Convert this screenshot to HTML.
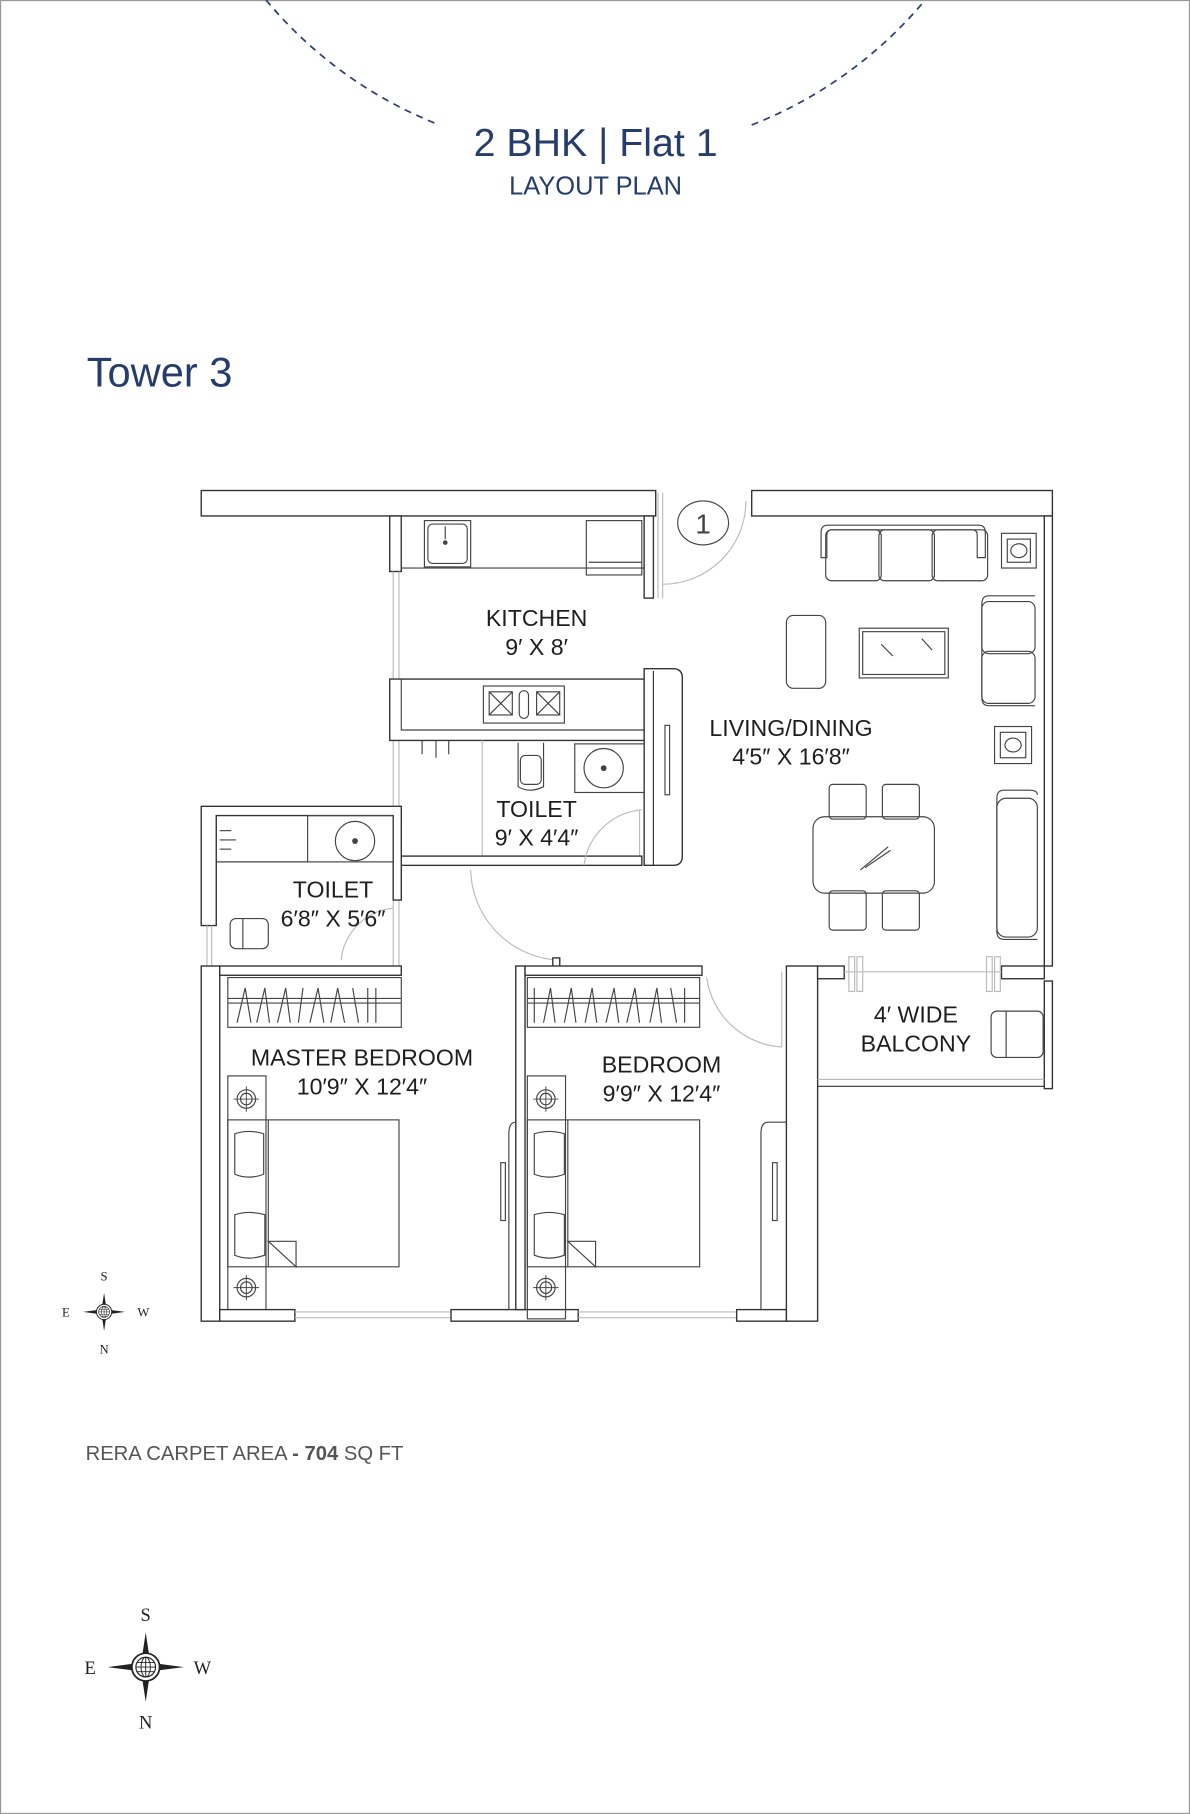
<!DOCTYPE html>
<html><head><meta charset="utf-8"><style>
html,body{margin:0;padding:0;background:#fff;width:1190px;height:1814px;overflow:hidden}
svg{display:block}
.w{fill:#fff;stroke:#333;stroke-width:1.2}
.f{fill:none;stroke:#444;stroke-width:1}
.l{fill:none;stroke:#bbb;stroke-width:1}
.t{font-family:"Liberation Sans",sans-serif;fill:#1e1e1e;font-size:20px;text-anchor:middle}
.nv{font-family:"Liberation Sans",sans-serif;fill:#253d6b}
.cp{font-family:"Liberation Serif",serif;fill:#222;text-anchor:middle}
</style></head><body>
<svg width="1190" height="1814" viewBox="0 0 1029 1568" preserveAspectRatio="none">
<defs>
<g id="comp">
 <polygon points="0,-30 3,-10 0,-12 -3,-10" fill="#222"/>
 <polygon points="0,30 3,10 0,12 -3,10" fill="#222"/>
 <polygon points="-33,0 -10,-3 -12,0 -10,3" fill="#222"/>
 <polygon points="33,0 10,-3 12,0 10,3" fill="#222"/>
 <circle r="12" fill="#fff" stroke="#222" stroke-width="1.5"/>
 <circle r="8.5" fill="none" stroke="#222" stroke-width="1"/>
 <ellipse rx="4" ry="8.5" fill="none" stroke="#222" stroke-width="0.8"/>
 <line x1="-8.5" y1="0" x2="8.5" y2="0" stroke="#222" stroke-width="0.8"/>
 <line x1="0" y1="-8.5" x2="0" y2="8.5" stroke="#222" stroke-width="0.8"/>
 <line x1="-7.5" y1="-4" x2="7.5" y2="-4" stroke="#222" stroke-width="0.7"/>
 <line x1="-7.5" y1="4" x2="7.5" y2="4" stroke="#222" stroke-width="0.7"/>
</g>
<g id="lamp">
 <circle r="8" fill="none" stroke="#444"/><circle r="5" fill="none" stroke="#444"/>
 <line x1="-11" y1="0" x2="11" y2="0" stroke="#444" stroke-width=".8"/><line x1="0" y1="-11" x2="0" y2="11" stroke="#444" stroke-width=".8"/>
</g>
</defs>
<rect x="0.5" y="0.5" width="1028" height="1567" fill="none" stroke="#999" stroke-width="1"/>
<path d="M230,0 A371,371 0 0 0 380,108" fill="none" stroke="#2a3f6e" stroke-width="1.5" stroke-dasharray="6,5"/>
<path d="M650,108 A371,371 0 0 0 800,0" fill="none" stroke="#2a3f6e" stroke-width="1.5" stroke-dasharray="6,5"/>
<text class="nv" x="515" y="135" font-size="34" text-anchor="middle">2 BHK | Flat 1</text>
<text class="nv" x="515" y="168" font-size="22" text-anchor="middle">LAYOUT PLAN</text>
<text class="nv" x="75" y="334" font-size="36">Tower 3</text>

<rect class="w" x="174" y="424" width="393" height="22"/>
<rect class="w" x="650" y="424" width="260" height="22"/>
<line class="l" x1="569" y1="426" x2="569" y2="517"/><line class="l" x1="573" y1="426" x2="573" y2="517"/>
<path class="l" d="M573,505 A72,72 0 0 0 645,433"/>
<ellipse cx="608" cy="452" rx="22" ry="19" class="f" stroke="#666"/>
<text x="608" y="461" font-family="Liberation Sans,sans-serif" font-size="24" fill="#444" text-anchor="middle">1</text>
<rect class="w" x="903" y="446" width="7" height="389"/>
<rect class="w" x="903" y="848" width="7" height="93"/>
<rect class="w" x="337" y="446" width="10" height="48"/>
<rect class="f" x="347" y="446" width="210" height="45"/>
<rect class="f" x="367" y="450" width="40" height="40"/><rect class="f" x="370" y="453" width="34" height="34" rx="4"/>
<circle cx="385" cy="469" r="2" fill="#444"/><line class="f" x1="385" y1="455" x2="385" y2="466"/>
<rect class="f" x="507" y="450" width="48" height="47"/><line class="f" x1="509" y1="486" x2="555" y2="486"/>
<rect class="w" x="557" y="446" width="8" height="71"/>
<line class="l" x1="340" y1="494" x2="340" y2="840"/><line class="l" x1="345" y1="494" x2="345" y2="840"/>
<path class="w" d="M337,587 H557 V640 H337 Z"/>
<path class="f" d="M347,587 V631 H557"/>
<rect class="f" x="418" y="593" width="70" height="32"/>
<rect class="f" x="423" y="598" width="20" height="20"/><line class="f" x1="423" y1="598" x2="443" y2="618"/><line class="f" x1="443" y1="598" x2="423" y2="618"/>
<rect class="f" x="464" y="598" width="20" height="20"/><line class="f" x1="464" y1="598" x2="484" y2="618"/><line class="f" x1="484" y1="598" x2="464" y2="618"/>
<rect class="f" x="449" y="597" width="8" height="24" rx="4"/>
<path class="w" d="M557,578 H582 Q590,578 590,586 V740 Q590,748 582,748 H557 Z"/>
<line x1="565" y1="580" x2="565" y2="748" stroke="#333"/>
<rect class="f" x="575" y="627" width="4" height="60"/>
<line class="l" x1="553" y1="700" x2="553" y2="748"/>
<line class="l" x1="417" y1="640" x2="417" y2="740"/>
<rect class="f" x="497" y="643" width="60" height="42"/>
<circle cx="522" cy="664" r="17" class="f"/><circle cx="522" cy="664" r="2.5" fill="#444"/>
<path class="f" d="M448,642 V680 Q458,686 470,680 V642"/><rect class="f" x="450" y="653" width="18" height="25" rx="4"/>
<line class="f" x1="377" y1="640" x2="377" y2="655"/><line class="f" x1="388" y1="640" x2="388" y2="652"/><line class="f" x1="365" y1="640" x2="365" y2="652"/>
<rect class="w" x="347" y="740" width="208" height="8"/>
<path class="l" d="M505,748 A55,55 0 0 1 555,700"/>
<path class="l" d="M407,752 A80,80 0 0 0 485,830"/>
<path class="w" d="M174,697 H347 V778 H340 V705 H187 V800 H174 Z"/>
<rect class="f" x="266" y="705" width="74" height="40"/>
<circle cx="307" cy="727" r="17" class="f"/><circle cx="307" cy="727" r="2.5" fill="#444"/>
<line class="f" x1="187" y1="745" x2="266" y2="745"/>
<line class="f" x1="190" y1="718" x2="200" y2="718"/><line class="f" x1="190" y1="726" x2="204" y2="726"/><line class="f" x1="190" y1="734" x2="200" y2="734"/>
<rect class="f" x="199" y="794" width="33" height="26" rx="5"/><line class="f" x1="210" y1="794" x2="210" y2="820"/>
<line class="l" x1="179" y1="800" x2="179" y2="835"/><line class="l" x1="183" y1="800" x2="183" y2="835"/>
<path class="l" d="M295,830 A50,50 0 0 1 340,785"/>
<rect class="w" x="174" y="835" width="16" height="307"/>
<rect class="w" x="190" y="835" width="157" height="8"/>
<rect class="f" x="197" y="845" width="150" height="43"/>
<line class="f" x1="197" y1="863" x2="347" y2="863"/><line class="f" x1="197" y1="867" x2="347" y2="867"/>
<path class="f" d="M205,884 L212,854 M212,854 L217,884 M222,884 L229,854 L233,884 M240,884 L247,854 L251,884 M258,884 L262,854 M268,884 L275,854 L280,884 M286,884 L292,854 L298,884 M305,854 L310,884 M318,854 L318,884 M325,854 L325,884"/>
<rect class="f" x="197" y="930" width="33" height="210"/>
<use href="#lamp" x="213" y="950"/><use href="#lamp" x="213" y="1113"/>
<rect class="f" x="197" y="968" width="148" height="127"/>
<line class="f" x1="232" y1="968" x2="232" y2="1095"/>
<path class="f" d="M203,980 Q215,976 228,980 L228,1015 Q215,1020 203,1015 Z"/>
<path class="f" d="M203,1050 Q215,1046 229,1050 L229,1085 Q215,1090 203,1085 Z"/>
<path class="f" d="M232,1073 H256 V1095 Z"/>
<rect class="w" x="190" y="1132" width="65" height="10"/>
<line class="l" x1="255" y1="1134" x2="390" y2="1134"/><line class="l" x1="255" y1="1139" x2="390" y2="1139"/>
<rect class="w" x="390" y="1132" width="110" height="10"/>
<path class="f" d="M440,1132 V980 Q440,970 446,970"/>
<rect class="f" x="433" y="1005" width="4" height="50"/>
<rect class="w" x="446" y="835" width="8" height="297"/>
<rect class="w" x="478" y="828" width="6" height="10"/>
<rect class="w" x="454" y="835" width="153" height="8"/>
<rect class="f" x="456" y="845" width="149" height="43"/>
<line class="f" x1="456" y1="863" x2="605" y2="863"/><line class="f" x1="456" y1="867" x2="605" y2="867"/>
<path class="f" d="M462,854 L462,884 M470,884 L476,854 L480,884 M488,884 L494,854 L498,884 M506,884 L512,854 L516,884 M524,884 L531,854 L535,884 M542,884 L549,854 L553,884 M562,884 L568,854 L572,884 M580,854 L585,884 M592,854 L592,884"/>
<rect class="f" x="456" y="930" width="33" height="210"/>
<use href="#lamp" x="472" y="950"/><use href="#lamp" x="472" y="1113"/>
<rect class="f" x="456" y="968" width="149" height="127"/>
<line class="f" x1="491" y1="968" x2="491" y2="1095"/>
<path class="f" d="M462,980 Q475,976 488,980 L488,1015 Q475,1020 462,1015 Z"/>
<path class="f" d="M462,1050 Q475,1046 488,1050 L488,1085 Q475,1090 462,1085 Z"/>
<path class="f" d="M491,1073 H515 V1095 Z"/>
<path class="l" d="M611,845 A70,70 0 0 0 676,905"/><line class="l" x1="676" y1="840" x2="676" y2="905"/>
<line class="l" x1="500" y1="1134" x2="637" y2="1134"/><line class="l" x1="500" y1="1139" x2="637" y2="1139"/>
<rect class="w" x="637" y="1132" width="43" height="10"/>
<path class="f" d="M658,1132 V980 Q658,970 664,970 H680"/>
<rect class="f" x="668" y="1005" width="4" height="50"/>
<rect class="w" x="680" y="835" width="27" height="307"/>
<rect class="w" x="707" y="835" width="23" height="11"/>
<rect class="w" x="866" y="835" width="37" height="11"/>
<line class="l" x1="730" y1="840" x2="866" y2="840"/>
<rect class="l" x="734" y="827" width="5" height="30"/><rect class="l" x="741" y="827" width="5" height="30"/>
<rect class="l" x="853" y="827" width="5" height="30"/><rect class="l" x="860" y="827" width="5" height="30"/>
<line class="l" x1="707" y1="933" x2="903" y2="933"/><line x1="707" y1="939" x2="903" y2="939" stroke="#333"/>
<rect class="f" x="857" y="874" width="45" height="40" rx="5"/><line class="f" x1="870" y1="874" x2="870" y2="914"/>
<path class="f" d="M710,460 Q710,454 716,454 H846 Q852,454 852,460 V482 H845 V462 Q845,458 840,458 H720 Q715,458 715,462 V482 H710 Z"/>
<rect class="f" x="714" y="458" width="48" height="44" rx="5"/><rect class="f" x="760" y="458" width="48" height="44" rx="5"/><rect class="f" x="806" y="458" width="48" height="44" rx="5"/>
<rect class="f" x="866" y="461" width="30" height="30"/><rect class="f" x="871" y="466" width="20" height="20"/><ellipse cx="881" cy="476" rx="7" ry="6" class="f"/>
<path class="f" d="M895,515 H855 Q849,515 849,522 V603 Q849,610 855,610 H895"/>
<rect class="f" x="849" y="520" width="46" height="45" rx="6"/><rect class="f" x="849" y="563" width="46" height="45" rx="6"/>
<rect class="f" x="860" y="628" width="32" height="32"/><rect class="f" x="865" y="633" width="22" height="22"/><ellipse cx="876" cy="644" rx="7" ry="6" class="f"/>
<path class="f" d="M897,687 Q897,683 890,683 H868 Q862,683 862,690 V805 Q862,812 868,812 H897"/>
<rect class="f" x="862" y="690" width="35" height="120" rx="8"/>
<rect class="f" x="680" y="532" width="34" height="63" rx="6"/>
<rect class="f" x="743" y="543" width="77" height="43"/><rect class="f" x="746" y="546" width="71" height="37"/>
<line class="f" x1="762" y1="557" x2="772" y2="567"/><line class="f" x1="797" y1="552" x2="806" y2="562"/>
<rect class="f" x="703" y="706" width="105" height="66" rx="10"/>
<rect class="f" x="717" y="678" width="32" height="30" rx="3"/><rect class="f" x="763" y="678" width="32" height="30" rx="3"/>
<rect class="f" x="717" y="770" width="32" height="34" rx="3"/><rect class="f" x="763" y="770" width="32" height="34" rx="3"/>
<line class="f" x1="744" y1="752" x2="768" y2="732"/><line class="f" x1="748" y1="750" x2="770" y2="735"/>
<text class="t" x="464" y="541">KITCHEN</text><text class="t" x="464" y="566">9′ X 8′</text>
<text class="t" x="684" y="636">LIVING/DINING</text><text class="t" x="684" y="661">4′5″ X 16′8″</text>
<text class="t" x="464" y="706">TOILET</text><text class="t" x="464" y="731">9′ X 4′4″</text>
<text class="t" x="288" y="776">TOILET</text><text class="t" x="288" y="801">6′8″ X 5′6″</text>
<text class="t" x="313" y="921">MASTER BEDROOM</text><text class="t" x="313" y="946">10′9″ X 12′4″</text>
<text class="t" x="572" y="927">BEDROOM</text><text class="t" x="572" y="952">9′9″ X 12′4″</text>
<text class="t" x="792" y="884">4′ WIDE</text><text class="t" x="792" y="909">BALCONY</text>
<use href="#comp" transform="translate(90,1134) scale(0.55)"/>
<text class="cp" x="90" y="1107" font-size="11">S</text><text class="cp" x="90" y="1170" font-size="11">N</text>
<text class="cp" x="57" y="1138" font-size="11">E</text><text class="cp" x="124" y="1138" font-size="11">W</text>
<use href="#comp" transform="translate(126,1441) scale(1)"/>
<text class="cp" x="126" y="1401" font-size="16">S</text><text class="cp" x="126" y="1494" font-size="16">N</text>
<text class="cp" x="78" y="1447" font-size="16">E</text><text class="cp" x="175" y="1447" font-size="16">W</text>
<text x="74" y="1262" font-family="Liberation Sans,sans-serif" font-size="17.5" fill="#555">RERA CARPET AREA <tspan font-weight="bold">- 704</tspan> SQ FT</text>
</svg>
</body></html>
